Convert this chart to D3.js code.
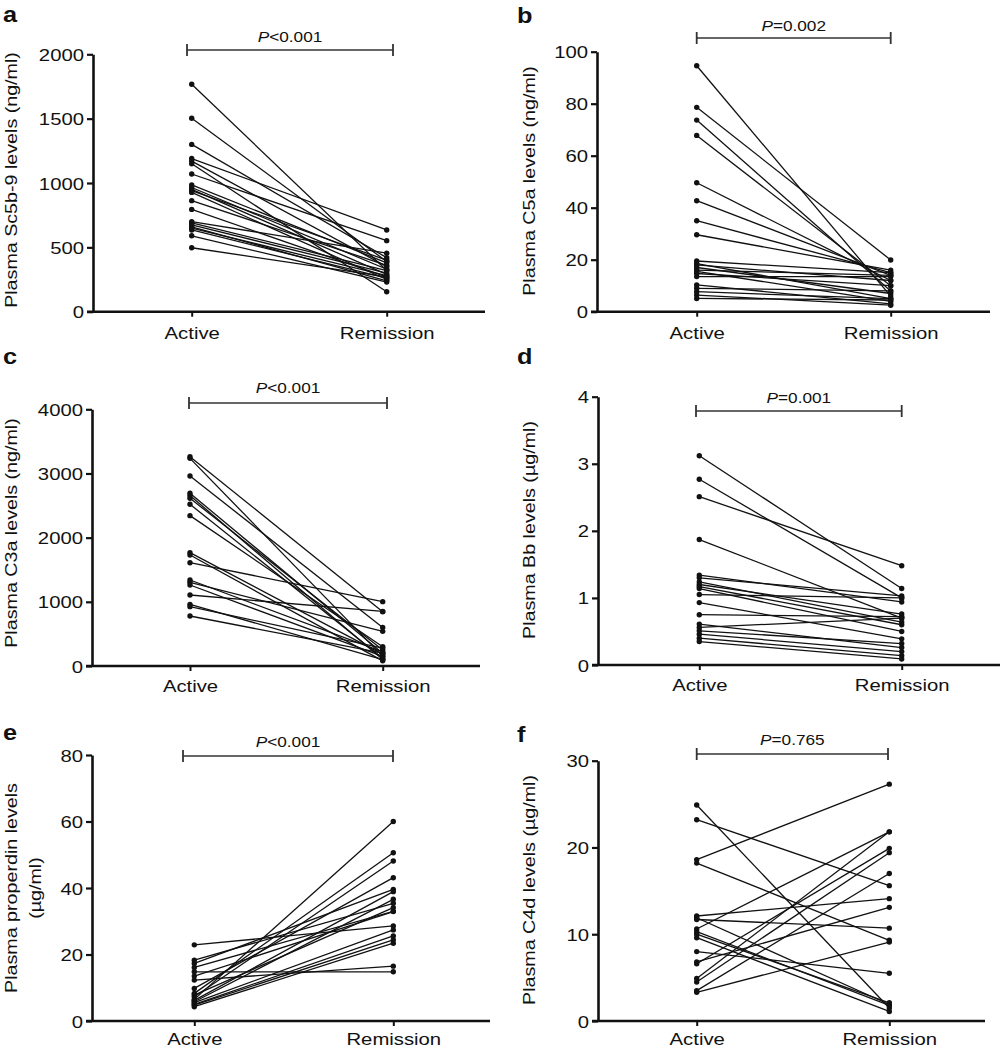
<!DOCTYPE html>
<html>
<head>
<meta charset="utf-8">
<script src="https://cdn.jsdelivr.net/npm/d3@7"></script>
<style>
  html, body { margin: 0; padding: 0; background: #fff; }
  svg { display: block; }
  text { font-family: "Liberation Sans", Arial, Helvetica, sans-serif; fill: #111; }
</style>
</head>
<body>
<script>
// ---------------- DATA ----------------
const categories = ["Active", "Remission"];

const panelLetters = ["a", "b", "c", "d", "e", "f"];
const yTitles = [
  ["Plasma Sc5b-9 levels (ng/ml)"],
  ["Plasma C5a levels (ng/ml)"],
  ["Plasma C3a levels (ng/ml)"],
  ["Plasma Bb levels (\u00b5g/ml)"],
  ["Plasma properdin levels", "(\u00b5g/ml)"],
  ["Plasma C4d levels (\u00b5g/ml)"]
];
const pLabels = [
  ["<", "0.001"], ["=", "0.002"], ["<", "0.001"],
  ["=", "0.001"], ["<", "0.001"], ["=", "0.765"]
];
const yTicks = [
  [0, 500, 1000, 1500, 2000],
  [0, 20, 40, 60, 80, 100],
  [0, 1000, 2000, 3000, 4000],
  [0, 1, 2, 3, 4],
  [0, 20, 40, 60, 80],
  [0, 10, 20, 30]
];

// a: Sc5b-9 (ng/ml)
const sc5b9Active    = [1767, 1503, 1300, 1190, 1170, 1150, 1070, 985, 965, 950, 940, 927, 863, 795, 700, 690, 675, 660, 650, 635, 590, 497];
const sc5b9Remission = [ 320,  390,  420,  635,  350,  155,  552, 380, 330, 290, 400, 250, 360, 270, 455, 320, 300, 240, 280, 260, 230, 270];
// b: C5a (ng/ml)
const c5aActive    = [94.6, 78.6, 73.7, 67.8, 49.6, 42.7, 35.0, 29.6, 19.5, 18.5, 18.0, 17.0, 16.0, 15.5, 14.7, 13.5, 10.3, 9.0, 7.7, 6.4, 5.1];
const c5aRemission = [ 6.0, 19.9,  8.0, 10.0, 12.0, 14.0, 15.0, 16.0, 15.0,  5.0, 12.0,  7.0, 14.0,  4.0, 10.0, 13.5,  3.0, 8.0, 5.0, 2.5, 4.5];
// c: C3a (ng/ml)
const c3aActive    = [3262, 3236, 2961, 2691, 2655, 2613, 2520, 2343, 1766, 1730, 1610, 1340, 1304, 1262, 1106, 961, 925, 779];
const c3aRemission = [ 847,  150,  600,  200,  100,  250,  120,  300,  180,   80, 1003,  220,  540,  150,  850, 100, 280, 200];
// d: Bb (µg/ml)
const bbActive    = [3.12, 2.77, 2.51, 1.87, 1.34, 1.30, 1.24, 1.20, 1.17, 1.14, 1.05, 0.93, 0.75, 0.61, 0.56, 0.51, 0.46, 0.40, 0.35];
const bbRemission = [1.14, 1.00, 1.48, 0.70, 0.94, 1.03, 0.64, 0.76, 0.60, 0.50, 1.00, 0.39, 0.72, 0.26, 0.70, 0.32, 0.20, 0.14, 0.09];
// e: properdin (µg/ml)
const properdinActive    = [22.9, 18.3, 17.3, 16.1, 14.8, 13.5, 12.3,  9.8,  8.3,  7.8,  7.3,  6.5,  6.2,  5.8,  5.5,  5.0,  4.8,  4.3];
const properdinRemission = [28.6, 35.4, 39.6, 33.0, 14.8, 32.9, 16.5, 43.1, 50.6, 34.1, 48.1, 60.0, 38.9, 36.6, 27.4, 25.6, 24.4, 23.4];
// f: C4d (µg/ml)
const c4dActive    = [24.9, 23.2, 18.6, 18.2, 12.1, 11.9, 11.7, 10.6, 10.3, 10.0, 9.6, 8.0,  6.8,  6.6,  4.9,  4.5, 3.5, 3.3];
const c4dRemission = [ 1.5, 15.6, 27.3,  9.3, 14.1,  1.9, 10.7, 21.8,  1.8,  2.1, 1.1, 5.5, 13.1, 19.9, 21.8, 19.4, 17.0, 9.1];

const activeSeries    = [sc5b9Active, c5aActive, c3aActive, bbActive, properdinActive, c4dActive];
const remissionSeries = [sc5b9Remission, c5aRemission, c3aRemission, bbRemission, properdinRemission, c4dRemission];

// ---------------- LAYOUT (pixel positions only) ----------------
const layouts = [
  {ax: 93,  top: 54.3,  bot: 311.7, xa: 191.7, xr: 386.7, xEnd: 485, brY: 50,  brX0: 187,   brX1: 393,   pY: 42,  lx: 3,   ly: 22,  tx: 17,  ty: 180, xl: 27},
  {ax: 597, top: 51.7,  bot: 311.7, xa: 696.7, xr: 890.7, xEnd: 990, brY: 38,  brX0: 696.7, brX1: 890.7, pY: 31,  lx: 517, ly: 23,  tx: 535, ty: 181, xl: 27},
  {ax: 92,  top: 409.3, bot: 666,   xa: 190,   xr: 382.7, xEnd: 480, brY: 403, brX0: 189,   brX1: 387,   pY: 393, lx: 3,   ly: 364, tx: 17,  ty: 533, xl: 26},
  {ax: 598, top: 396.7, bot: 665,   xa: 699.3, xr: 901.7, xEnd: 1000,brY: 411, brX0: 696,   brX1: 901.7, pY: 403, lx: 517, ly: 364, tx: 535, ty: 530, xl: 26},
  {ax: 92,  top: 755,   bot: 1021,  xa: 194.3, xr: 393.3, xEnd: 490, brY: 756, brX0: 183,   brX1: 393,   pY: 747, lx: 3,   ly: 740, tx: 17,  ty: 888, tx2: 41, xl: 24},
  {ax: 598, top: 760.7, bot: 1021,  xa: 696.7, xr: 889.3, xEnd: 985, brY: 754, brX0: 696.7, brX1: 888,   pY: 745, lx: 517, ly: 742, tx: 535, ty: 890, xl: 24}
];

const SX = 1.23; // horizontal stretch of the lettering in the reference
const W = 1007, H = 1050;
const svg = d3.select("body").append("svg").attr("width", W).attr("height", H);

layouts.forEach((L, i) => {
  const g = svg.append("g");
  const y = d3.scaleLinear().domain([0, d3.max(yTicks[i])]).range([L.bot, L.top]);
  const x = d3.scalePoint().domain(categories).range([L.xa, L.xr]);

  // y axis
  const yAxis = g.append("g").attr("transform", `translate(${L.ax},0)`)
    .call(d3.axisLeft(y).tickValues(yTicks[i]).tickFormat(d => String(d))
      .tickSize(6).tickSizeOuter(0).tickPadding(9));
  yAxis.select(".domain").attr("stroke", "#111").attr("stroke-width", 2.6);
  yAxis.selectAll(".tick line").attr("stroke", "#111").attr("stroke-width", 2.2);
  yAxis.selectAll(".tick text")
    .attr("x", null).attr("dy", null)
    .attr("transform", "translate(-9,6) scale(" + SX + ",1)")
    .style("font-size", "16.5px").attr("fill", "#111");

  // x axis line (extends past plot)
  g.append("line")
    .attr("x1", L.ax - 6).attr("x2", L.xEnd)
    .attr("y1", L.bot).attr("y2", L.bot)
    .attr("stroke", "#111").attr("stroke-width", 2.6);
  const xAxis = g.append("g").attr("transform", `translate(0,${L.bot})`)
    .call(d3.axisBottom(x).tickSize(5).tickSizeOuter(0));
  xAxis.select(".domain").remove();
  xAxis.selectAll(".tick line").attr("stroke", "#111").attr("stroke-width", 2);
  xAxis.selectAll(".tick text")
    .attr("y", null).attr("dy", null)
    .attr("transform", `translate(0,${L.xl}) scale(${SX},1)`)
    .style("font-size", "16.5px").attr("fill", "#111");

  // y title (rotated)
  const titles = yTitles[i];
  titles.forEach((t, k) => {
    const tx = k === 0 ? L.tx : L.tx2;
    g.append("text")
      .attr("transform", `translate(${tx},${L.ty}) rotate(-90) scale(${SX},1)`)
      .attr("text-anchor", "middle")
      .style("font-size", "16px")
      .text(t);
  });

  // panel letter
  g.append("text")
    .attr("transform", `translate(${L.lx},${L.ly}) scale(1.15,1)`)
    .style("font-size", "22px").style("font-weight", "bold")
    .text(panelLetters[i]);

  // significance bracket
  const brc = "#333";
  g.append("line").attr("x1", L.brX0).attr("x2", L.brX1).attr("y1", L.brY).attr("y2", L.brY)
    .attr("stroke", brc).attr("stroke-width", 1.6);
  [L.brX0, L.brX1].forEach(bx => {
    g.append("line").attr("x1", bx).attr("x2", bx).attr("y1", L.brY - 6).attr("y2", L.brY + 6)
      .attr("stroke", brc).attr("stroke-width", 1.8);
  });
  const pt = g.append("text")
    .attr("transform", `translate(${(L.brX0 + L.brX1) / 2},${L.pY}) scale(${SX},1)`)
    .attr("text-anchor", "middle")
    .style("font-size", "14px");
  pt.append("tspan").style("font-style", "italic").text("P");
  pt.append("tspan").text(pLabels[i][0] + pLabels[i][1]);

  // paired data
  const act = activeSeries[i], rem = remissionSeries[i];
  const pairs = act.map((a, k) => ({a: a, r: rem[k]}));
  g.append("g").selectAll("line").data(pairs).join("line")
    .attr("x1", x(categories[0])).attr("x2", x(categories[1]))
    .attr("y1", d => y(d.a)).attr("y2", d => y(d.r))
    .attr("stroke", "#111").attr("stroke-width", 1.3);
  const dots = [];
  pairs.forEach(d => { dots.push({c: categories[0], v: d.a}); dots.push({c: categories[1], v: d.r}); });
  g.append("g").selectAll("circle").data(dots).join("circle")
    .attr("cx", d => x(d.c)).attr("cy", d => y(d.v)).attr("r", 2.7)
    .attr("fill", "#111");
});
</script>
</body>
</html>
